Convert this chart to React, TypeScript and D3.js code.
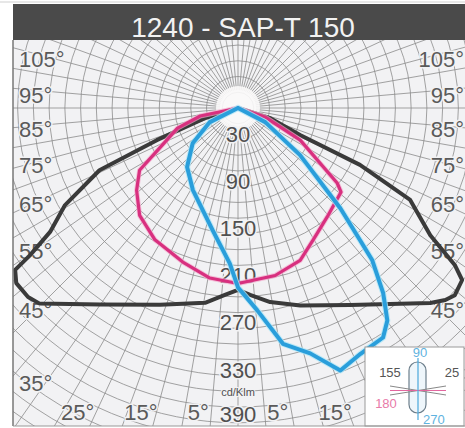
import React from "react";
import * as d3 from "d3";

// ---- data (gamma angle in degrees, negative = left half-plane; intensity in cd/klm)
const darkAngles = [-90, -73, -68.4, -65.8, -60.7, -56.6, -54.7, -54, -51.7, -48, -45.4, -35.1, -21.6, -9.6, -4, 0, 3.7, 9.4, 17.5, 29.6, 39.6, 44.6, 47.2, 49.2, 52.5, 54.1, 56.5, 61.9, 65, 66.5, 72.6, 90];
const darkValues = [0, 44, 111, 193, 252, 286, 324, 350, 359, 359, 354, 305, 269, 251, 238, 231, 238, 250, 263, 288, 323, 348, 359, 364, 359, 340, 293, 248, 171, 86, 43, 0];

const pinkAngles = [-90, -78, -71.6, -62.9, -57.7, -50.9, -42.5, -32.2, -19.7, -9.4, 0, 12.5, 22.2, 29.6, 39.2, 50.8, 52.9, 62.7, 71.6, 90];
const pinkValues = [0, 49, 81, 112, 148, 166, 185, 198, 208, 219, 223, 218, 209, 193, 179, 169, 158, 89, 36, 0];

const blueAngles = [-90, -63.4, -52.1, -40.8, -28.8, -11.6, -3, 0, 5.4, 10.8, 16.4, 21.3, 26.5, 32.3, 35.1, 38.1, 41.4, 42.7, 45.6, 52.8, 62.6, 90];
const blueValues = [0, 40, 73, 99, 119, 159, 198, 228, 258, 305, 325, 358, 349, 345, 330, 299, 258, 229, 182, 99, 39, 0];

const ringLabels = [30, 90, 150, 210, 270, 330, 390];
const leftAngleLabels = [105, 95, 85, 75, 65, 55, 45, 35];
const rightAngleLabels = [105, 95, 85, 75, 65, 55, 45];
const bottomLeftLabels = [25, 15, 5];
const bottomRightLabels = [15, 5];

const title = "1240 - SAP-T 150";
const unitLabel = "cd/Klm";

// ---- layout
const W = 465;
const H = 428;
const box = { x0: 13, y0: 40, x1: 465, y1: 426 };
const cx = 238;
const cy = 108;
const rScale = d3.scaleLinear().domain([0, 100]).range([0, 78.7]);
const FONT = "'Liberation Sans', Arial, sans-serif";
const BG = "#f2f2f4";

function curvePath(angles: number[], values: number[]) {
  const pts = angles.map((a, i) => [a, values[i]] as [number, number]);
  return d3
    .lineRadial<[number, number]>()
    .angle((d) => Math.PI - (d[0] * Math.PI) / 180)
    .radius((d) => rScale(d[1]))
    .curve(d3.curveLinear)(pts) as string;
}

export default function App() {
  const rings = d3.range(20, 520, 20);
  const radials = d3.range(0, 360, 5);
  const maxR = rScale(520);
  const sideW = cx - box.x0;
  const botH = box.y1 - cy;
  const sideY = (a: number) => Math.min(cy + sideW * (1 / Math.tan((a * Math.PI) / 180)) * 0.88 + 12, 391);
  const botDx = (a: number) => botH * Math.tan((a * Math.PI) / 180) + 12;

  return (
    <svg width={W} height={H} style={{ position: "absolute", left: 0, top: 0 }} fontFamily={FONT}>
      <defs>
        <clipPath id="plotClip">
          <rect x={box.x0} y={box.y0} width={box.x1 - box.x0} height={box.y1 - box.y0} />
        </clipPath>
      </defs>
      <rect x={0} y={0} width={W} height={H} fill="#ffffff" />
      {/* plot background */}
      <rect x={box.x0} y={box.y0} width={box.x1 - box.x0} height={box.y1 - box.y0} fill={BG} />
      <g clipPath="url(#plotClip)">
        {rings.map((c) => (
          <circle key={"r" + c} cx={cx} cy={cy} r={rScale(c)} fill="none" stroke="#8c8c8c" strokeWidth={1} opacity={0.8} />
        ))}
        {radials.map((a) => {
          const t = (a * Math.PI) / 180;
          return (
            <line
              key={"a" + a}
              x1={cx + Math.sin(t) * 18}
              y1={cy + Math.cos(t) * 18}
              x2={cx + Math.sin(t) * maxR}
              y2={cy + Math.cos(t) * maxR}
              stroke="#8c8c8c"
              strokeWidth={1}
              opacity={0.8}
            />
          );
        })}
        <circle cx={cx} cy={cy} r={22} fill="#fbfafa" opacity={0.9} />
      </g>
      {/* angle labels */}
      <g fontSize={22} fill="#5a5a5a" stroke={BG} strokeWidth={3} paintOrder="stroke">
        {leftAngleLabels.map((a) => (
          <text key={"ll" + a} x={box.x0 + 6} y={sideY(a)} textAnchor="start">
            {a}°
          </text>
        ))}
        {rightAngleLabels.map((a) => (
          <text key={"rl" + a} x={box.x1 - 1} y={sideY(a)} textAnchor="end">
            {a}°
          </text>
        ))}
        {bottomLeftLabels.map((a) => (
          <text key={"bl" + a} x={cx - botDx(a)} y={box.y1 - 6} textAnchor="middle">
            {a}°
          </text>
        ))}
        {bottomRightLabels.map((a) => (
          <text key={"br" + a} x={cx + botDx(a)} y={box.y1 - 6} textAnchor="middle">
            {a}°
          </text>
        ))}
      </g>
      {/* ring labels */}
      <g fontSize={22} fill="#505050" textAnchor="middle" stroke={BG} strokeWidth={3} paintOrder="stroke">
        {ringLabels.map((v) => (
          <text key={"rv" + v} x={cx} y={Math.min(cy + rScale(v) + 10, 422)}>
            {v}
          </text>
        ))}
        <text x={cx} y={cy + rScale(360) + 5} fontSize={11} strokeWidth={2}>
          {unitLabel}
        </text>
      </g>
      {/* curves */}
      <g transform={`translate(${cx},${cy})`} fill="none" strokeLinejoin="round" strokeLinecap="round">
        <path d={curvePath(darkAngles, darkValues)} stroke="#3a3a3a" strokeWidth={4} />
        <path d={curvePath(pinkAngles, pinkValues)} stroke="#f3a9cc" strokeWidth={5} opacity={0.7} />
        <path d={curvePath(pinkAngles, pinkValues)} stroke="#d8307f" strokeWidth={3.2} />
        <path d={curvePath(blueAngles, blueValues)} stroke="#aee6f7" strokeWidth={6} opacity={0.8} />
        <path d={curvePath(blueAngles, blueValues)} stroke="#2a9edb" strokeWidth={4} />
      </g>
      {/* legend */}
      <g>
        <rect x={365} y={347} width={99} height={79} fill="#ffffff" stroke="#9a9a9a" strokeWidth={1} />
        <rect x={409} y={362} width={17} height={51} rx={8.5} fill="#eef6fb" stroke="#6d7f8c" strokeWidth={1.2} />
        <line x1={390} y1={386} x2={446} y2={395} stroke="#888" strokeWidth={1} />
        <line x1={390} y1={395} x2={446} y2={386} stroke="#888" strokeWidth={1} />
        <line x1={390} y1={390.5} x2={446} y2={390.5} stroke="#e3679f" strokeWidth={1.2} />
        <line x1={418} y1={358} x2={418} y2={420} stroke="#4aa8dc" strokeWidth={1.2} />
        <g fontSize={13}>
          <text x={420} y={357} fill="#5fb3e0" textAnchor="middle">90</text>
          <text x={390} y={377} fill="#555" textAnchor="middle">155</text>
          <text x={452} y={377} fill="#555" textAnchor="middle">25</text>
          <text x={386} y={408} fill="#e87aa8" textAnchor="middle">180</text>
          <text x={423} y={424} fill="#5fb3e0" textAnchor="start">270</text>
        </g>
      </g>
      {/* frame */}
      <line x1={box.x0} y1={box.y0} x2={box.x0} y2={box.y1} stroke="#777" strokeWidth={1.5} />
      <line x1={box.x0} y1={box.y1} x2={box.x1} y2={box.y1} stroke="#999" strokeWidth={1} />
      {/* title */}
      <line x1={0} y1={2} x2={W} y2={2} stroke="#cfcfcf" strokeWidth={1} />
      <rect x={box.x0} y={4} width={W - box.x0} height={36} fill="#4a4a4a" />
      <text x={243} y={37} textAnchor="middle" fontSize={28} fill="#f2f2f2">
        {title}
      </text>
    </svg>
  );
}
